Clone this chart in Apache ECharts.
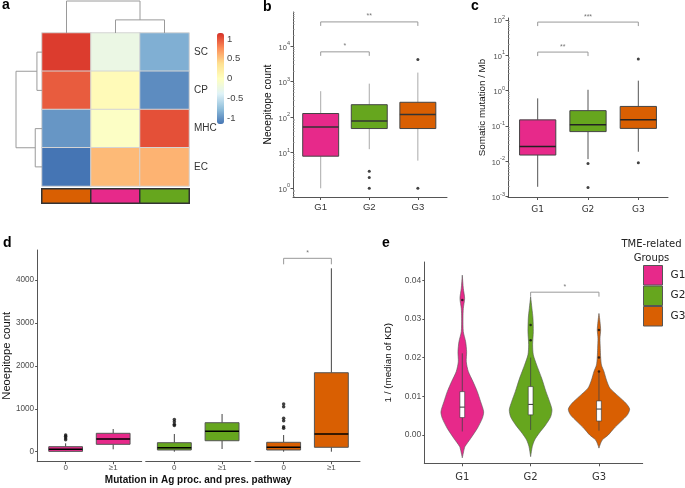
<!DOCTYPE html>
<html><head><meta charset="utf-8">
<script src="https://cdn.jsdelivr.net/npm/echarts@6/dist/echarts.min.js"></script>
<style>html,body{margin:0;padding:0;background:#fff}#c{width:685px;height:488px}</style>
</head><body><div id="c"></div><script>
// ---------------- data ----------------
const groups = ['G1', 'G2', 'G3'];
const groupColors = ['#E7298A', '#66A61E', '#D95F02'];

// panel a: heatmap (row z-scores per column)
const hmRows = ['SC', 'CP', 'MHC', 'EC'];
const hmCols = ['c1', 'c2', 'c3'];
const hmSC = [1.10, -0.25, -0.85];
const hmCP = [0.97, 0.06, -1.03];
const hmMHC = [-0.98, -0.04, 1.02];
const hmEC = [-1.15, 0.56, 0.59];
const hmColGroup = [2, 0, 1];            // index into groups: G3, G1, G2
const colbarTicks = [-1, -0.5, 0, 0.5, 1];
// dendrograms: [posA, posB, heightA, heightB, mergeHeight]
const colDendro = [[1.5, 2.5, 0, 0, 0.41], [0.5, 2.0, 0, 0.41, 1.0]];
const rowDendro = [[0.5, 1.5, 0, 0, 0.195], [2.5, 3.5, 0, 0, 0.26], [1.0, 3.0, 0.195, 0.26, 1.0]];

// panel b: neoepitope count (log scale)
const bMin = [1, 12.6, 6];
const bQ1 = [8, 48, 48];
const bMed = [53, 78, 120];
const bQ3 = [127, 225, 263];
const bMax = [540, 880, 1800];
const bOut = [[], [3, 2, 1], [4200, 1]];
const bBrFrom = [1, 1], bBrTo = [2, 3], bBrY = [6900, 48000], bBrLab = ['*', '**'];
const bTicks = [0, 1, 2, 3, 4];

// panel c: somatic mutation / Mb (log scale)
const cMin = [0.0019, 0.0115, 0.0186];
const cQ1 = [0.015, 0.069, 0.085];
const cMed = [0.026, 0.107, 0.148];
const cQ3 = [0.148, 0.27, 0.355];
const cMax = [0.6, 1.05, 1.9];
const cOut = [[], [0.0087, 0.0018], [7.8, 0.0091]];
const cBrFrom = [1, 1], cBrTo = [2, 3], cBrY = [12.2, 86], cBrLab = ['**', '***'];
const cTicks = [-3, -2, -1, 0, 1, 2];

// panel d: neoepitope count by mutation in Ag pathway (order: G1-0, G1-≥1, G2-0, G2-≥1, G3-0, G3-≥1)
const dCats = ['0', '≥1'];
const dMin = [0, 56, 0, 63, 0, 0];
const dQ1 = [8, 172, 40, 256, 40, 103];
const dMed = [56, 296, 93, 475, 103, 413];
const dQ3 = [117, 429, 210, 676, 219, 1841];
const dMax = [196, 529, 413, 879, 389, 4275];
const dOut = [[280, 320, 360, 390], [], [610, 640, 700, 750], [], [545, 583, 723, 779, 1049, 1112], []];
const dBrY = 4508, dBrLab = '*';
const dTicks = [0, 1000, 2000, 3000, 4000];

// panel e: 1/(median of KD) violins
const eMin = [0.0009, 0.0013, 0.0011];
const eQ1 = [0.0045, 0.0052, 0.0036];
const eMed = [0.0072, 0.0079, 0.0067];
const eQ3 = [0.0112, 0.0125, 0.0088];
const eMax = [0.0211, 0.0200, 0.0162];
const eOut = [[0.0349], [0.0284, 0.0245], [0.0271, 0.0200, 0.0164]];
const eG1Y = [0.0413, 0.0379, 0.0353, 0.0327, 0.0302, 0.0267, 0.0241, 0.0215, 0.0189, 0.0164, 0.0138, 0.0112, 0.0086, 0.0060, 0.0043, 0.0017, -0.0009, -0.0030, -0.0043, -0.0059];
const eG1D = [0, 0.033, 0.076, 0.033, 0.022, 0.033, 0.109, 0.141, 0.130, 0.196, 0.348, 0.489, 0.598, 0.696, 0.652, 0.489, 0.272, 0.087, 0.043, 0];
const eG2Y = [0.0357, 0.0327, 0.0302, 0.0267, 0.0233, 0.0207, 0.0181, 0.0147, 0.0112, 0.0086, 0.0065, 0.0047, 0.0026, 0.0004, -0.0013, -0.0030, -0.0056];
const eG2D = [0, 0.043, 0.076, 0.087, 0.065, 0.087, 0.196, 0.358, 0.500, 0.619, 0.695, 0.652, 0.489, 0.272, 0.130, 0.054, 0];
const eG3Y = [0.0314, 0.0293, 0.0271, 0.0250, 0.0224, 0.0201, 0.0181, 0.0164, 0.0142, 0.0121, 0.0099, 0.0082, 0.0067, 0.0052, 0.0034, 0.0017, 0.0000, -0.0013, -0.0026, -0.0034];
const eG3D = [0, 0.033, 0.055, 0.033, 0.043, 0.055, 0.081, 0.163, 0.244, 0.358, 0.651, 0.879, 1.0, 0.928, 0.707, 0.489, 0.303, 0.107, 0.033, 0];
const eBrFrom = 2, eBrTo = 3, eBrY = 0.0369, eBrLab = '*';
const eTicks = [0, 0.01, 0.02, 0.03, 0.04];

// ---------------- helpers ----------------
const SANS = 'Liberation Sans, Arial, sans-serif';
const DV = 'DejaVu Sans, sans-serif';
const AX = '#555';
const TK = '#4d4d4d';
const lg = v => Math.log10(v);
const id = v => v;

function boxData(mins, q1, med, q3, maxs, tf, xs) {
  return mins.map((m, i) => [xs[i], tf(m), tf(q1[i]), tf(med[i]), tf(q3[i]), tf(maxs[i]), i]);
}
function outData(outs, tf, xs) {
  const r = [];
  outs.forEach((arr, i) => arr.forEach(v => r.push([xs[i], tf(v)])));
  return r;
}
function boxRender(cfg) {
  return function (params, api) {
    const x = api.value(0);
    const lo = api.coord([x, api.value(1)]), q1 = api.coord([x, api.value(2)]),
      md = api.coord([x, api.value(3)]), q3 = api.coord([x, api.value(4)]), hi = api.coord([x, api.value(5)]);
    const half = api.size([cfg.width, 0])[0] / 2;
    return {
      type: 'group', children: [
        { type: 'line', shape: { x1: lo[0], y1: lo[1], x2: q1[0], y2: q1[1] }, style: { stroke: cfg.whisker, lineWidth: cfg.whiskerW } },
        { type: 'line', shape: { x1: q3[0], y1: q3[1], x2: hi[0], y2: hi[1] }, style: { stroke: cfg.whisker, lineWidth: cfg.whiskerW } },
        { type: 'rect', shape: { x: q1[0] - half, y: q3[1], width: half * 2, height: q1[1] - q3[1] }, style: { fill: cfg.fill(api.value(6)), stroke: cfg.stroke, lineWidth: cfg.strokeW } },
        { type: 'line', shape: { x1: md[0] - half, y1: md[1], x2: md[0] + half, y2: md[1] }, style: { stroke: cfg.median, lineWidth: cfg.medianW } }
      ]
    };
  };
}
function bracketRender(labels, tick) {
  return function (params, api) {
    const p1 = api.coord([api.value(0), api.value(2)]), p2 = api.coord([api.value(1), api.value(2)]);
    return {
      type: 'group', children: [
        { type: 'polyline', shape: { points: [[p1[0], p1[1] + tick], [p1[0], p1[1]], [p2[0], p2[1]], [p2[0], p2[1] + tick]] }, style: { stroke: '#999', lineWidth: 1, fill: null } },
        { type: 'text', x: (p1[0] + p2[0]) / 2, y: p1[1] - 2, style: { text: labels[params.dataIndex], align: 'center', verticalAlign: 'bottom', fontSize: 7, fill: '#777', fontFamily: SANS } }
      ]
    };
  };
}
function dendroRender(horizontal) {
  return function (params, api) {
    const a = api.value(0), b = api.value(1), ha = api.value(2), hb = api.value(3), hm = api.value(4);
    const pts = horizontal
      ? [[ha, a], [hm, a], [hm, b], [hb, b]]
      : [[a, ha], [a, hm], [b, hm], [b, hb]];
    return { type: 'polyline', shape: { points: pts.map(p => api.coord(p)) }, style: { stroke: '#9a9a9a', lineWidth: 1, fill: null } };
  };
}
function violinRender(ys, ds, xc, scale) {
  return function (params, api) {
    const right = ys.map((y, i) => api.coord([xc + ds[i] * scale, y]));
    const left = ys.map((y, i) => api.coord([xc - ds[i] * scale, y])).reverse();
    return { type: 'polygon', shape: { points: right.concat(left), smooth: 0.25 }, style: { fill: api.visual('color'), stroke: '#555', lineWidth: 0.6 } };
  };
}
function minorLogs(lo, hi) {
  const r = [];
  for (let n = Math.floor(lo) - 1; n <= Math.ceil(hi); n++)
    for (let k = 2; k <= 9; k++) { const v = n + Math.log10(k); if (v > lo && v < hi) r.push(v); }
  return r;
}
function supLabel(v) { return '{b|10}{s|' + v + '}'; }
const supRich = { b: { fontSize: 7.5, color: TK, fontFamily: SANS, lineHeight: 11, verticalAlign: 'bottom' }, s: { fontSize: 5.5, color: TK, fontFamily: SANS, lineHeight: 11, verticalAlign: 'top' } };

const hidden = { show: false };
function hiddenAxis(extra) { return Object.assign({ axisLine: { show: false, onZero: false }, axisTick: hidden, axisLabel: hidden, splitLine: hidden }, extra); }
const axLine = () => ({ show: true, onZero: false, lineStyle: { color: AX, width: 1 } });

// ---------------- layout ----------------
const grids = [
  { left: 42, top: 33, width: 147, height: 153 },   // 0 heatmap
  { left: 42, top: 189, width: 147, height: 14 },   // 1 annotation
  { left: 42, top: 1, width: 147, height: 32 },     // 2 col dendrogram
  { left: 16, top: 33, width: 26, height: 153 },    // 3 row dendrogram
  { left: 217, top: 33, width: 7, height: 91 },     // 4 colorbar labels
  { left: 293, top: 12, width: 154, height: 185 },  // 5 b
  { left: 508, top: 18, width: 160, height: 179 },  // 6 c
  { left: 36, top: 250, width: 105.7, height: 211.7 }, // 7 d1
  { left: 145.7, top: 250, width: 105, height: 211.7 }, // 8 d2
  { left: 255, top: 250, width: 105, height: 211.7 },   // 9 d3
  { left: 424.3, top: 262, width: 218.4, height: 201.3 } // 10 e
];

function groupX(gi, min, max, margin, fontFamily, fontSize) {
  return {
    type: 'value', gridIndex: gi, min, max,
    axisLine: axLine(),
    axisTick: { show: true, customValues: [1, 2, 3], length: 3, lineStyle: { color: AX } },
    axisLabel: { show: true, customValues: [1, 2, 3], formatter: v => groups[Math.round(v) - 1], margin, fontFamily, fontSize, color: '#333' },
    splitLine: hidden
  };
}
function dX(gi, name) {
  const ax = {
    type: 'value', gridIndex: gi, min: 0.4, max: 2.6,
    axisLine: axLine(),
    axisTick: { show: true, customValues: [1, 2], length: 2.5, lineStyle: { color: AX } },
    axisLabel: { show: true, customValues: [1, 2], formatter: v => dCats[Math.round(v) - 1], margin: 2, fontFamily: SANS, fontSize: 8, color: TK },
    splitLine: hidden
  };
  if (name) Object.assign(ax, { name, nameLocation: 'middle', nameGap: 14, nameTextStyle: { fontFamily: SANS, fontSize: 10, fontWeight: 'bold', color: '#111' } });
  return ax;
}
function dY(gi, showAxis) {
  if (!showAxis) return hiddenAxis({ type: 'value', gridIndex: gi, min: -233, max: 4702 });
  return {
    type: 'value', gridIndex: gi, min: -233, max: 4702,
    name: 'Neoepitope count', nameLocation: 'middle', nameGap: 20, nameTextStyle: { fontFamily: SANS, fontSize: 11.2, color: '#111' },
    axisLine: axLine(),
    axisTick: { show: true, customValues: dTicks, length: 2, lineStyle: { color: AX } },
    axisLabel: { show: true, customValues: dTicks, formatter: v => String(Math.round(v)), margin: 3, fontFamily: SANS, fontSize: 8.2, color: TK },
    splitLine: hidden
  };
}

const xAxis = [
  { type: 'category', gridIndex: 0, data: hmCols, axisLine: hidden, axisTick: hidden, axisLabel: hidden, splitLine: hidden },
  { type: 'category', gridIndex: 1, data: hmCols, axisLine: hidden, axisTick: hidden, axisLabel: hidden, splitLine: hidden },
  hiddenAxis({ type: 'value', gridIndex: 2, min: 0, max: 3 }),
  hiddenAxis({ type: 'value', gridIndex: 3, min: 0, max: 1, inverse: true }),
  hiddenAxis({ type: 'value', gridIndex: 4, min: 0, max: 1 }),
  groupX(5, 0.43, 3.6, 5, SANS, 9.5),
  groupX(6, 0.41, 3.59, 8, DV, 9),
  dX(7), dX(8, 'Mutation in Ag proc. and pres. pathway'), dX(9),
  groupX(10, 0.444, 3.64, 9, DV, 10)
];

const yAxis = [
  { type: 'category', gridIndex: 0, data: hmRows, inverse: true, position: 'right', axisLine: hidden, axisTick: hidden, splitLine: hidden, axisLabel: { show: true, margin: 5, fontFamily: SANS, fontSize: 10, color: '#333' } },
  { type: 'category', gridIndex: 1, data: ['grp'], axisLine: hidden, axisTick: hidden, axisLabel: hidden, splitLine: hidden },
  hiddenAxis({ type: 'value', gridIndex: 2, min: 0, max: 1 }),
  hiddenAxis({ type: 'value', gridIndex: 3, min: 0, max: 4, inverse: true }),
  { type: 'value', gridIndex: 4, min: -1.15, max: 1.15, position: 'right', axisLine: hidden, axisTick: hidden, splitLine: hidden,
    axisLabel: { show: true, customValues: colbarTicks, margin: 3, fontFamily: SANS, fontSize: 9.5, color: '#444' } },
  // b major
  { type: 'value', gridIndex: 5, position: 'left', min: -0.245, max: 4.96, name: 'Neoepitope count', nameLocation: 'middle', nameGap: 20,
    nameTextStyle: { fontFamily: SANS, fontSize: 10.2, color: '#111' },
    axisLine: axLine(),
    axisTick: { show: true, customValues: bTicks, length: 2.5, lineStyle: { color: AX } },
    axisLabel: { show: true, customValues: bTicks, margin: 3, formatter: supLabel, rich: supRich },
    splitLine: hidden },
  // b minor ticks
  hiddenAxis({ type: 'value', gridIndex: 5, position: 'left', offset: 0, min: -0.245, max: 4.96, axisTick: { show: true, inside: true, customValues: minorLogs(-0.245, 4.96), length: 1.5, lineStyle: { color: '#888' } } }),
  // c major
  { type: 'value', gridIndex: 6, position: 'left', min: -3.01, max: 2.05, name: 'Somatic mutation / Mb', nameLocation: 'middle', nameGap: 21,
    nameTextStyle: { fontFamily: SANS, fontSize: 9.8, color: '#111' },
    axisLine: axLine(),
    axisTick: { show: true, customValues: cTicks, length: 2.5, lineStyle: { color: AX } },
    axisLabel: { show: true, customValues: cTicks, margin: 3, formatter: supLabel, rich: supRich },
    splitLine: hidden },
  hiddenAxis({ type: 'value', gridIndex: 6, position: 'left', offset: 0, min: -3.01, max: 2.05, axisTick: { show: true, inside: true, customValues: minorLogs(-3.01, 2.05), length: 1.5, lineStyle: { color: '#888' } } }),
  dY(7, true), dY(8, false), dY(9, false),
  { type: 'value', gridIndex: 10, min: -0.00732, max: 0.0447, name: '1 / (median of KD)', nameLocation: 'middle', nameGap: 31,
    nameTextStyle: { fontFamily: SANS, fontSize: 9.8, color: '#111' },
    axisLine: axLine(),
    axisTick: { show: true, customValues: eTicks, length: 2, lineStyle: { color: AX } },
    axisLabel: { show: true, customValues: eTicks, margin: 3, formatter: v => v.toFixed(2), fontFamily: SANS, fontSize: 8.5, color: TK },
    splitLine: hidden }
];

// ---------------- series ----------------
const hmMatrix = [hmSC, hmCP, hmMHC, hmEC];
const hmData = [];
hmMatrix.forEach((row, r) => row.forEach((v, c) => hmData.push([c, r, v])));
const annData = hmColGroup.map((g, c) => [c, 0, g]);

const gx = [1, 2, 3];
const series = [
  { type: 'heatmap', xAxisIndex: 0, yAxisIndex: 0, data: hmData, itemStyle: { borderColor: '#d4d4d4', borderWidth: 1 }, emphasis: { disabled: true } },
  { type: 'heatmap', xAxisIndex: 1, yAxisIndex: 1, data: annData, itemStyle: { borderColor: '#333', borderWidth: 1.5 }, emphasis: { disabled: true } },
  { type: 'custom', name: 'colDendro', xAxisIndex: 2, yAxisIndex: 2, data: colDendro, renderItem: dendroRender(false), clip: false },
  { type: 'custom', name: 'rowDendro', xAxisIndex: 3, yAxisIndex: 3, data: rowDendro, renderItem: dendroRender(true), clip: false },
  // b
  { type: 'custom', name: 'bBox', xAxisIndex: 5, yAxisIndex: 5, data: boxData(bMin, bQ1, bMed, bQ3, bMax, lg, gx),
    renderItem: boxRender({ width: 0.74, fill: i => groupColors[i], stroke: '#444', strokeW: 1, whisker: '#aaa', whiskerW: 1, median: '#333', medianW: 1.5 }) },
  { type: 'scatter', name: 'bOut', xAxisIndex: 5, yAxisIndex: 5, data: outData(bOut, lg, gx), symbolSize: 3, itemStyle: { color: '#111' } },
  { type: 'custom', name: 'bBr', xAxisIndex: 5, yAxisIndex: 5, data: bBrFrom.map((f, i) => [f, bBrTo[i], lg(bBrY[i])]), renderItem: bracketRender(bBrLab, 4), clip: false },
  // c
  { type: 'custom', name: 'cBox', xAxisIndex: 6, yAxisIndex: 7, data: boxData(cMin, cQ1, cMed, cQ3, cMax, lg, gx),
    renderItem: boxRender({ width: 0.72, fill: i => groupColors[i], stroke: '#444', strokeW: 1, whisker: '#555', whiskerW: 1, median: '#222', medianW: 1.5 }) },
  { type: 'scatter', name: 'cOut', xAxisIndex: 6, yAxisIndex: 7, data: outData(cOut, lg, gx), symbolSize: 3, itemStyle: { color: '#111' } },
  { type: 'custom', name: 'cBr', xAxisIndex: 6, yAxisIndex: 7, data: cBrFrom.map((f, i) => [f, cBrTo[i], lg(cBrY[i])]), renderItem: bracketRender(cBrLab, 4), clip: false }
];
// d: three facets
[0, 1, 2].forEach(g => {
  const sl = a => a.slice(g * 2, g * 2 + 2);
  series.push({ type: 'custom', name: 'dBox' + g, xAxisIndex: 7 + g, yAxisIndex: 9 + g,
    data: boxData(sl(dMin), sl(dQ1), sl(dMed), sl(dQ3), sl(dMax), id, [1, 2]),
    renderItem: boxRender({ width: 0.71, fill: () => groupColors[g], stroke: '#555', strokeW: 1, whisker: '#444', whiskerW: 1, median: '#000', medianW: 1.5 }) });
  series.push({ type: 'scatter', name: 'dOut' + g, xAxisIndex: 7 + g, yAxisIndex: 9 + g, data: outData(sl(dOut), id, [1, 2]), symbolSize: 3.5, itemStyle: { color: '#111' } });
});
series.push({ type: 'custom', name: 'dBr', xAxisIndex: 9, yAxisIndex: 11, data: [[1, 2, dBrY]], renderItem: bracketRender([dBrLab], 6), clip: false });
// e: violins
const vY = [eG1Y, eG2Y, eG3Y], vD = [eG1D, eG2D, eG3D];
groups.forEach((g, i) => {
  series.push({ type: 'custom', name: g, xAxisIndex: 10, yAxisIndex: 12, data: [[i + 1, vY[i][0]]],
    itemStyle: { color: groupColors[i] }, renderItem: violinRender(vY[i], vD[i], i + 1, 0.449), clip: false });
});
series.push({ type: 'custom', name: 'eBox', xAxisIndex: 10, yAxisIndex: 12, data: boxData(eMin, eQ1, eMed, eQ3, eMax, id, gx),
  renderItem: boxRender({ width: 0.07, fill: () => '#fff', stroke: '#333', strokeW: 0.6, whisker: '#444', whiskerW: 0.8, median: '#333', medianW: 1 }) });
series.push({ type: 'scatter', name: 'eOut', xAxisIndex: 10, yAxisIndex: 12, data: outData(eOut, id, gx), symbolSize: 2.5, itemStyle: { color: '#111' } });
series.push({ type: 'custom', name: 'eBr', xAxisIndex: 10, yAxisIndex: 12, data: [[eBrFrom, eBrTo, eBrY]], renderItem: bracketRender([eBrLab], 4.5), clip: false });

const panelLabel = (t, x, y) => ({ type: 'text', x, y, style: { text: t, font: 'bold 14px ' + SANS, fill: '#000', verticalAlign: 'middle' } });

const option = {
  backgroundColor: '#fff',
  animation: false,
  grid: grids.map(g => Object.assign({ containLabel: false }, g)),
  xAxis, yAxis, series,
  visualMap: [
    { type: 'continuous', seriesIndex: 0, min: -1.15, max: 1.15, calculable: false, show: true, left: 217, top: 33, itemWidth: 7, itemHeight: 91, padding: 0, text: null,
      inRange: { color: ['#4575B4', '#91BFDB', '#E0F3F8', '#FFFFBF', '#FEE090', '#FC8D59', '#D73027'] } },
    { type: 'piecewise', seriesIndex: 1, show: false, dimension: 2,
      pieces: groups.map((g, i) => ({ value: i, color: groupColors[i] })) }
  ],
  legend: { data: groups, orient: 'vertical', left: 643, top: 265, itemWidth: 19, itemHeight: 19.5, itemGap: 0, icon: 'rect', padding: 0,
    itemStyle: { borderColor: '#555', borderWidth: 1 }, selectedMode: false,
    textStyle: { fontFamily: DV, fontSize: 10.5, color: '#222', padding: [0, 0, 0, 3] } },
  graphic: [
    panelLabel('a', 2, 5.5), panelLabel('b', 263, 7), panelLabel('c', 471, 6), panelLabel('d', 3, 243), panelLabel('e', 382, 243),
    { type: 'text', x: 651.5, y: 251.5, style: { text: 'TME-related\nGroups', align: 'center', verticalAlign: 'middle', lineHeight: 14.7, font: '10px ' + DV, fill: '#222' } }
  ]
};

const chart = echarts.init(document.getElementById('c'), null, { renderer: 'canvas', width: 685, height: 488 });
chart.setOption(option);
</script></body></html>
